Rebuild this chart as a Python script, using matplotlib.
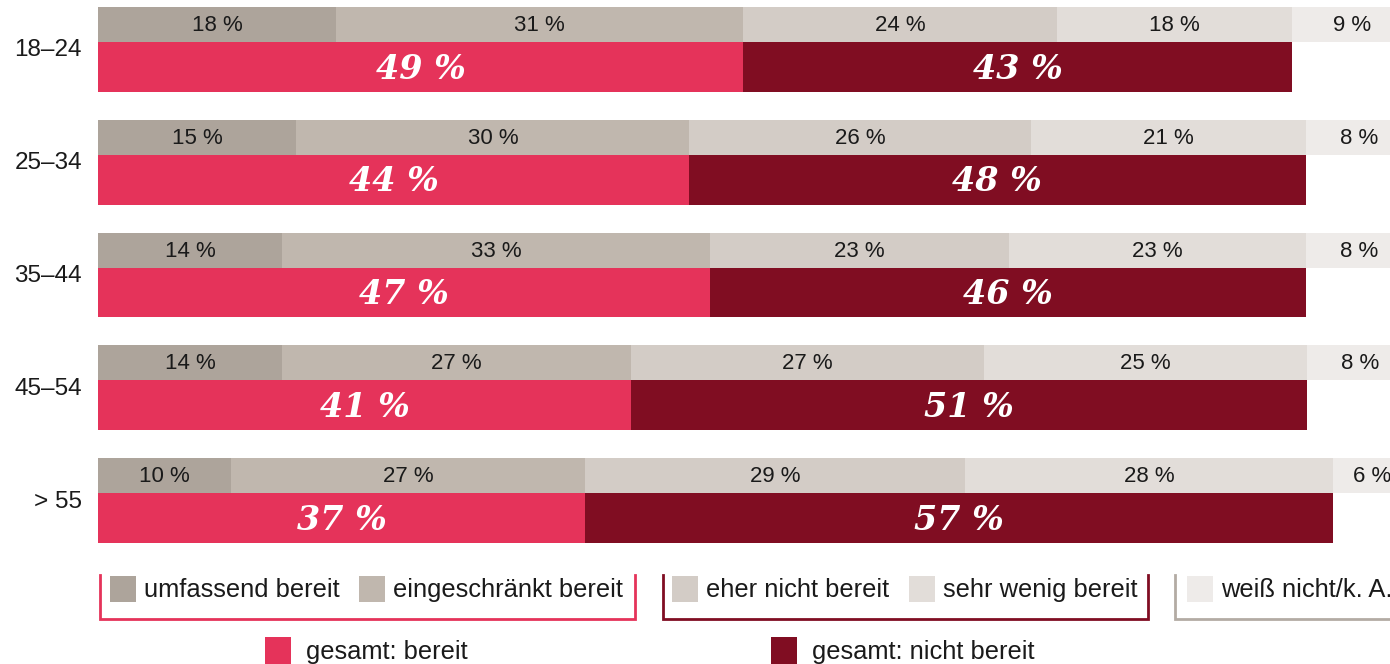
import matplotlib
matplotlib.use('Agg')
import matplotlib.pyplot as plt
from matplotlib.patches import Rectangle

plt.rcParams['font.family'] = 'Liberation Sans'

# Altersgruppen
groups = ['18–24', '25–34', '35–44', '45–54', '> 55']

# Anteile in % (aus dem Bild geschätzt)
umfassend = [18.1, 15.1, 14.0, 14.0, 10.1]
eingeschraenkt = [31.0, 29.9, 32.6, 26.6, 27.0]
eher_nicht = [23.9, 26.0, 22.7, 26.8, 28.9]
sehr_wenig = [17.9, 20.9, 22.6, 24.6, 28.0]
weiss_nicht = [9.1, 8.1, 8.1, 8.1, 6.0]

# veröffentlichte Summen
gesamt_bereit = [49, 44, 47, 41, 37]
gesamt_nicht = [43, 48, 46, 51, 57]

seg_colors = ['#ADA49B', '#C0B7AE', '#D3CCC6', '#E2DDD9', '#EEEBE9']
pink = '#E5335A'
darkred = '#800D22'
txt = '#1a1a1a'

W, H = 1390, 664
fig = plt.figure(figsize=(W / 100, H / 100), dpi=100)

# Hauptachse: 100 % = 1314 px, beginnt bei x=98
ax = fig.add_axes([98 / W, (H - 543) / H, 1314 / W, 536 / H])
ax.set_xlim(0, 100)
top_h = 35 / 113
bot_h = 50 / 113
ax.set_ylim(len(groups) - 1 + top_h + bot_h, 0)
ax.axis('off')

series = [umfassend, eingeschraenkt, eher_nicht, sehr_wenig, weiss_nicht]
for i, g in enumerate(groups):
    left = 0
    for vals, col in zip(series, seg_colors):
        v = vals[i]
        ax.barh(i, v, left=left, height=top_h, align='edge', color=col, linewidth=0)
        ax.text(left + v / 2, i + top_h / 2 + 0.01, f'{v:.0f} %', ha='center', va='center',
                fontsize=16, color=txt)
        left += v
    b = umfassend[i] + eingeschraenkt[i]
    n = eher_nicht[i] + sehr_wenig[i]
    ax.barh(i + top_h, b, left=0, height=bot_h, align='edge', color=pink, linewidth=0)
    ax.barh(i + top_h, n, left=b, height=bot_h, align='edge', color=darkred, linewidth=0)
    yc = i + top_h + bot_h / 2 + 0.02
    ax.text(b / 2, yc, f'{gesamt_bereit[i]} %', ha='center', va='center', color='white',
            fontsize=24, family='DejaVu Serif', weight='bold', style='italic')
    ax.text(b + n / 2, yc, f'{gesamt_nicht[i]} %', ha='center', va='center', color='white',
            fontsize=24, family='DejaVu Serif', weight='bold', style='italic')
    fig.text(82 / W, 1 - (7 + i * 113 + 43) / H, g, ha='right', va='center', fontsize=17.5,
             color=txt)

# Legende in Pixelkoordinaten
lg = fig.add_axes([0, 0, 1, 1])
lg.set_xlim(0, W)
lg.set_ylim(H, 0)
lg.axis('off')

legend_items = [
    ('umfassend bereit', seg_colors[0], 110),
    ('eingeschränkt bereit', seg_colors[1], 359),
    ('eher nicht bereit', seg_colors[2], 672),
    ('sehr wenig bereit', seg_colors[3], 909),
    ('weiß nicht/k. A.', seg_colors[4], 1187),
]
for label, col, x in legend_items:
    lg.add_patch(Rectangle((x, 576), 26, 26, color=col, lw=0))
    lg.text(x + 34, 590, label, ha='left', va='center', fontsize=18.4, color=txt)

brackets = [(100, 635, pink), (663, 1148, darkred), (1175, 1420, '#B3ABA4')]
for x0, x1, col in brackets:
    lg.plot([x0, x0, x1, x1], [575, 619, 619, 575], color=col, lw=2, solid_joinstyle='miter')

for label, col, x in [('gesamt: bereit', pink, 265), ('gesamt: nicht bereit', darkred, 771)]:
    lg.add_patch(Rectangle((x, 637), 26, 28, color=col, lw=0))
    lg.text(x + 41, 652, label, ha='left', va='center', fontsize=18.4, color=txt)

fig.savefig('out.png', dpi=100, facecolor='white')
